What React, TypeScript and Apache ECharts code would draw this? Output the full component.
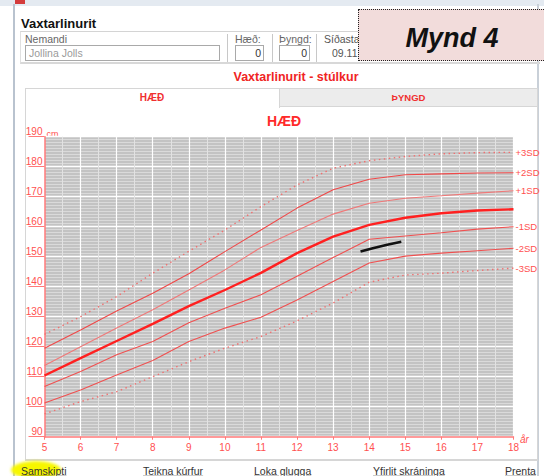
import React, { useEffect, useRef } from 'react';
import * as echarts from 'echarts';

// ---- data ----
const ages = [5, 6, 7, 8, 9, 10, 11, 12, 13, 14, 15, 16, 17, 18];
const plus3SD = [124.1, 130.0, 136.7, 144.5, 151.8, 158.9, 166.7, 173.9, 179.5, 182.0, 183.4, 184.3, 184.7, 184.8];
const plus2SD = [119.5, 125.6, 131.9, 137.8, 144.3, 151.7, 158.9, 166.2, 172.3, 175.8, 177.3, 177.6, 177.9, 178.0];
const plus1SD = [113.7, 120.0, 126.2, 132.3, 138.9, 145.6, 153.1, 158.7, 164.2, 167.8, 169.5, 170.3, 171.2, 172.0];
const median = [110.4, 116.2, 121.9, 127.6, 133.5, 138.9, 144.6, 151.2, 156.7, 160.6, 163.0, 164.5, 165.4, 165.8];
const minus1SD = [106.7, 111.7, 117.3, 121.7, 128.0, 132.8, 137.3, 143.5, 149.7, 155.8, 156.9, 158.0, 159.2, 160.0];
const minus2SD = [101.2, 105.6, 110.6, 115.4, 121.7, 126.2, 129.8, 135.6, 141.7, 147.9, 150.2, 151.2, 152.0, 152.8];
const minus3SD = [97.6, 101.7, 105.0, 110.0, 115.0, 119.5, 123.4, 128.6, 134.6, 141.5, 143.9, 144.5, 145.4, 146.2];
const curveLabels = ['+3SD', '+2SD', '+1SD', '', '-1SD', '-2SD', '-3SD'];
const patientAges = [13.76, 14.1, 14.5, 14.89];
const patientHeights = [151.7, 152.8, 154.0, 155.0];
const links = ['Samskipti', 'Teikna kúrfur', 'Loka glugga', 'Yfirlit skráninga', 'Prenta'];

const FONT = '"Liberation Sans Narrow", "Liberation Sans", Arial, sans-serif';
const RED = '#ff5050';
const AXIS_RED = '#ff7a7a';

const T = (p: any) => {
  const { x, y, size = 10.5, color = '#333', weight = 400, align = 'left', style = {}, children } = p;
  const tr = align === 'center' ? 'translate(-50%,-50%)' : align === 'right' ? 'translate(-100%,-50%)' : 'translateY(-50%)';
  return (
    <div style={{ position: 'absolute', left: x, top: y, transform: tr, fontFamily: FONT, fontSize: size, color, fontWeight: weight, whiteSpace: 'nowrap', lineHeight: 1, ...style }}>{children}</div>
  );
};

const Box = (p: any) => <div style={{ position: 'absolute', boxSizing: 'border-box', ...p.style }}>{p.children}</div>;

export default function App() {
  const ref = useRef<HTMLDivElement>(null);
  useEffect(() => {
    const chart = echarts.init(ref.current!, null, { renderer: 'svg' });
    const curves = [
      { d: plus3SD, color: '#f07070', width: 1.4, type: [1.5, 3.5] },
      { d: plus2SD, color: '#f04848', width: 1.1, type: 'solid' },
      { d: plus1SD, color: '#f07878', width: 1.1, type: 'solid' },
      { d: median, color: '#ff2020', width: 2.4, type: 'solid' },
      { d: minus1SD, color: '#f05050', width: 1.1, type: 'solid' },
      { d: minus2SD, color: '#f05050', width: 1.1, type: 'solid' },
      { d: minus3SD, color: '#f07070', width: 1.4, type: [1.5, 3.5] },
    ];
    const series: any[] = curves.map((c, i) => ({
      type: 'line',
      data: ages.map((a, j) => [a, c.d[j]]),
      symbol: 'none',
      silent: true,
      lineStyle: { color: c.color, width: c.width, type: c.type },
      endLabel: curveLabels[i]
        ? { show: true, formatter: curveLabels[i], color: RED, fontSize: 9.5, fontFamily: FONT, distance: 2 }
        : { show: false },
      z: 3,
    }));
    series.push({
      type: 'line',
      data: patientAges.map((a, j) => [a, patientHeights[j]]),
      symbol: 'none',
      silent: true,
      lineStyle: { color: '#111', width: 2.6 },
      z: 4,
    });
    chart.setOption({
      animation: false,
      backgroundColor: 'transparent',
      grid: { left: 44.5, top: 136.7, width: 469, height: 300, show: true, backgroundColor: '#c3c3c3', borderWidth: 0 },
      xAxis: {
        type: 'value', min: 5, max: 18, interval: 1,
        axisLine: { show: true, lineStyle: { color: AXIS_RED, width: 1.5 } },
        axisTick: { show: true, length: 3, lineStyle: { color: AXIS_RED } },
        axisLabel: { color: RED, fontSize: 10, fontFamily: FONT, margin: 6 },
        splitLine: { show: true, lineStyle: { color: '#ffffff', width: 1.2 } },
        minorTick: { show: false, splitNumber: 2 },
        minorSplitLine: { show: true, lineStyle: { color: '#e2e2e2', width: 1 } },
      },
      yAxis: {
        type: 'value', min: 90, max: 190, interval: 10,
        axisLine: { show: true, lineStyle: { color: AXIS_RED, width: 1.5 } },
        axisTick: { show: true, length: 16, lineStyle: { color: AXIS_RED, width: 1 } },
        axisLabel: { color: RED, fontSize: 10, fontFamily: FONT, margin: 2, align: 'right', verticalAlign: 'bottom' },
        splitLine: { show: true, lineStyle: { color: '#ffffff', width: 1.3 } },
        minorTick: { show: false, splitNumber: 10 },
        minorSplitLine: { show: true, lineStyle: { color: '#dadada', width: 1 } },
      },
      graphic: [
        { type: 'text', x: 284, y: 121, style: { text: 'HÆÐ', fill: '#ff2a2a', font: `bold 14px ${FONT}`, textAlign: 'center', textVerticalAlign: 'middle' } },
        { type: 'text', x: 46.5, y: 133.5, style: { text: 'cm', fill: RED, font: `9px ${FONT}`, textAlign: 'left', textVerticalAlign: 'middle' } },
        { type: 'text', x: 520, y: 439, style: { text: 'år', fill: RED, font: `italic 10px ${FONT}`, textAlign: 'left', textVerticalAlign: 'middle' } },
      ],
      series,
    });
    return () => chart.dispose();
  }, []);

  const linkX = [21, 143, 254, 373, 505];
  return (
    <div style={{ position: 'fixed', left: 0, top: 0, width: 544, height: 476, background: '#fff', overflow: 'hidden' }}>
      {/* window frame */}
      <Box style={{ left: 0, top: 0, width: 544, height: 6, background: '#e4eaf1' }} />
      <Box style={{ left: 15, top: 0, width: 10, height: 4, background: '#d43c3c' }} />
      <Box style={{ left: 12.5, top: 4, width: 2, height: 472, background: '#b9c3cf' }} />
      <Box style={{ left: 537, top: 4, width: 1.5, height: 472, background: '#c9d0d8' }} />
      <T x={21} y={23} size={13} weight={700} color="#111">Vaxtarlinurit</T>
      {/* group box */}
      <Box style={{ left: 20, top: 31, width: 520, height: 33, borderTop: '1px solid #d4d4d4', borderLeft: '1px solid #e0e0e0', borderBottom: '2px solid #d8d8d8' }} />
      <T x={25} y={39} size={10.5} color="#666">Nemandi</T>
      <Box style={{ left: 25, top: 45, width: 195, height: 16, border: '1px solid #a9a9a9', background: '#fff' }} />
      <T x={29} y={53} size={10.5} color="#9a9a9a">Jollina Jolls</T>
      <Box style={{ left: 227, top: 34, width: 1, height: 28, background: '#c8c8c8' }} />
      <T x={235} y={39} size={10.5} color="#666">Hæð:</T>
      <Box style={{ left: 235, top: 45, width: 29, height: 16, border: '1px solid #a9a9a9', background: '#fff' }} />
      <T x={261} y={53} size={10.5} color="#333" align="right">0</T>
      <Box style={{ left: 272, top: 34, width: 1, height: 28, background: '#c8c8c8' }} />
      <T x={279} y={39} size={10.5} color="#666">Þyngd:</T>
      <Box style={{ left: 279, top: 45, width: 31, height: 16, border: '1px solid #a9a9a9', background: '#fff' }} />
      <T x={307} y={53} size={10.5} color="#333" align="right">0</T>
      <Box style={{ left: 316, top: 34, width: 1, height: 28, background: '#c8c8c8' }} />
      <T x={324} y={39} size={10.5} color="#555">Síðasta skráning</T>
      <T x={332} y={53} size={10.5} color="#555">09.11.</T>
      {/* Mynd 4 overlay */}
      <Box style={{ left: 358, top: 8.5, width: 190, height: 52.5, background: '#f2dcdb', border: '1.2px dotted #222' }} />
      <T x={452} y={38} size={27} weight={700} color="#111" align="center" style={{ fontFamily: '"Liberation Sans", Arial, sans-serif', fontStyle: 'italic' }}>Mynd 4</T>
      {/* chart header */}
      <T x={296} y={77} size={12.5} weight={700} color="#f02424" align="center">Vaxtarlinurit - stúlkur</T>
      <Box style={{ left: 279, top: 88, width: 259, height: 19, background: '#ececec', border: '1px solid #d6d6d6' }} />
      <Box style={{ left: 25, top: 88, width: 255, height: 20, background: '#fff', borderTop: '1px solid #d6d6d6', borderLeft: '1px solid #d6d6d6', borderRight: '1px solid #d6d6d6' }} />
      <T x={152} y={98} size={10} weight={700} color="#f03030" align="center">HÆÐ</T>
      <T x={408.5} y={98} size={9.5} weight={700} color="#f03030" align="center">ÞYNGD</T>
      <Box style={{ left: 25, top: 107, width: 513, height: 354, borderLeft: '1px solid #d6d6d6', borderRight: '1px solid #d6d6d6', borderBottom: '2px solid #d6d6d6' }} />
      {/* bottom links */}
      <div style={{ position: 'absolute', left: 11, top: 461, width: 50, height: 18, borderRadius: '50%', background: '#f7f700', filter: 'blur(1.5px)' }} />
      {links.map((l, i) => (
        <T key={l} x={linkX[i]} y={470.5} size={10.5} color="#333" style={{ textDecoration: 'underline' }}>{l}</T>
      ))}
      <div ref={ref} style={{ position: 'absolute', left: 0, top: 0, width: 544, height: 476 }} />
    </div>
  );
}
